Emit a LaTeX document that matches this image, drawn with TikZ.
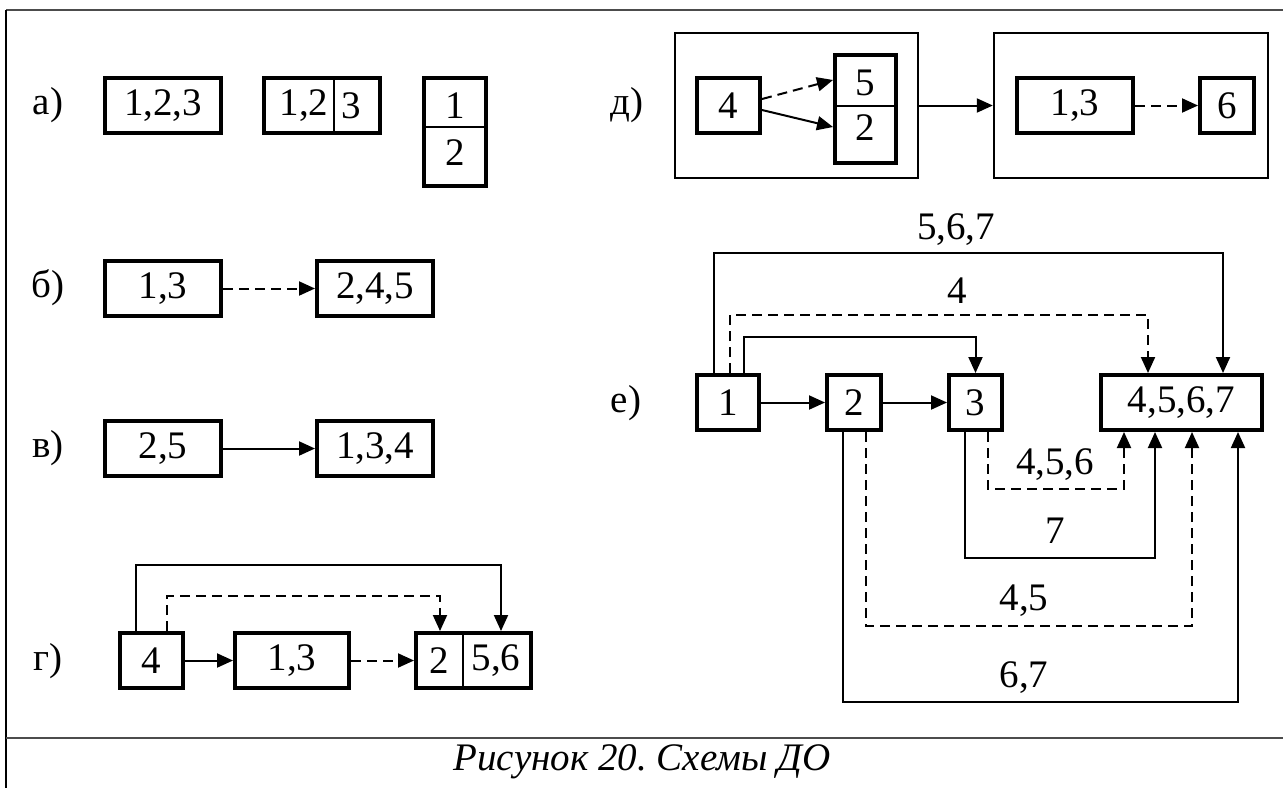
\documentclass[tikz,border=0pt]{standalone}
\usepackage{fontspec}
\setmainfont{Liberation Serif}
\usetikzlibrary{arrows.meta}
\frenchspacing

\begin{document}
\begin{tikzpicture}[x=0.5pt,y=-0.5pt,
	every node/.style={font=\fontsize{19.5}{23}\selectfont},
	blk/.style={draw,line width=2pt,inner sep=0pt,minimum height=27.5pt},
	grp/.style={draw,line width=1.2pt,inner sep=0pt,minimum height=72.5pt},
	arr/.style={line width=1pt,-{Triangle[length=8pt,width=7pt]}},
	dsh/.style={dash pattern=on 5pt off 3pt},
	ln/.style={line width=1pt}]
	\useasboundingbox (0,0) rectangle (1283,788);
	% frame
	\draw[line width=1pt,black!70] (1283,10) -- (6,10);
	\draw[line width=1.2pt] (6,10) -- (6,788);
	\draw[line width=1pt,black!70] (6,738) -- (1283,738);
	\foreach \txt/\yy/\nm in {а)/105/la,б)/288/lb,в)/448/lv,г)/661/lg} {
		\node (\nm) at (48,\yy) {\txt};}

	% a)
	\node[blk,minimum width=58pt] (A1) at (163,105.5) {1,2,3};
	\node[blk,minimum width=58pt] (A2) at (322,105.5) {};
	\draw[ln] (A2.north -| 334,0) -- (A2.south -| 334,0);
	\node (A2a) at (304,105.5) {1,2};
	\node (A2b) at (351,105.5) {3};
	\node[blk,minimum width=31pt,minimum height=54pt] (A3) at (455,132) {};
	\draw[ln] (A3.west |- 0,127) -- (A3.east |- 0,127);
	\node (A3a) at (455,106) {1};
	\node (A3b) at (455,153) {2};

	% b), v)
	\node[blk,minimum width=58pt] (B1) at (163,288.5) {1,3};
	\node[blk,minimum width=58pt] (B2) at (375,288.5) {2,4,5};
	\draw[arr,dsh] (B1) -- (B2);
	\node[blk,minimum width=58pt] (V1) at (163,448.5) {2,5};
	\node[blk,minimum width=58pt] (V2) at (375,448.5) {1,3,4};
	\draw[arr] (V1) -- (V2);

	% g)
	\node[blk,minimum width=31.5pt] (G1) at (151.5,660.5) {4};
	\node[blk,minimum width=57pt] (G2) at (292,660.5) {1,3};
	\node[blk,minimum width=57.5pt] (G3) at (473.5,660.5) {};
	\draw[ln] (G3.north -| 463,0) -- (G3.south -| 463,0);
	\node (G3a) at (439,660.5) {2};
	\node (G3b) at (496,660.5) {5,6};
	\draw[arr] (G1) -- (G2);
	\draw[arr,dsh] (G2) -- (G3);
	\draw[arr] (G1.north -| 136,0) |- (501,565) -- (G3.north -| 501,0);
	\draw[arr,dsh] (G1.north -| 167,0) |- (440,596) -- (G3.north -| 440,0);

	% d)
	\node (ld) at (627,105) {д)};
	\node[grp,minimum width=121.5pt] (DL) at (796.5,105.5) {};
	\node[blk,minimum width=31.5pt] (D4) at (728.5,105.5) {4};
	\node[blk,minimum width=30.5pt,minimum height=54pt] (D52) at (865.5,109) {};
	\draw[ln] (D52.west |- 0,106) -- (D52.east |- 0,106);
	\node (D52a) at (865.5,83) {5};
	\node (D52b) at (865.5,128) {2};
	\draw[arr,dsh] (D4.east |- 0,99) -- (D52.west |- 0,80);
	\draw[arr] (D4.east |- 0,110) -- (D52.west |- 0,127);
	\node[grp,minimum width=137pt] (DR) at (1131,105.5) {};
	\draw[arr] (DL) -- (DR);
	\node[blk,minimum width=58pt] (D13) at (1075,105.5) {1,3};
	\node[blk,minimum width=27pt] (D6) at (1227,105.5) {6};
	\draw[arr,dsh] (D13) -- (D6);

	% e)
	\node (le) at (626,403) {е)};
	\node[blk,minimum width=31pt] (E1) at (728,402.5) {1};
	\node[blk,minimum width=27pt] (E2) at (854,402.5) {2};
	\node[blk,minimum width=26.5pt] (E3) at (975.5,402.5) {3};
	\node[blk,minimum width=80.5pt] (E4) at (1181.5,402.5) {4,5,6,7};
	\draw[arr] (E1) -- (E2);
	\draw[arr] (E2) -- (E3);
	\draw[arr] (E1.north -| 714,0) |- (1223,253) -- (E4.north -| 1223,0);
	\draw[arr,dsh] (E1.north -| 730,0) |- (1148,315) -- (E4.north -| 1148,0);
	\draw[arr] (E1.north -| 744,0) |- (975.5,337) -- (E3.north);
	\draw[arr,dsh] (E3.south -| 988,0) |- (1124,489) -- (E4.south -| 1124,0);
	\draw[arr] (E3.south -| 965,0) |- (1155,558) -- (E4.south -| 1155,0);
	\draw[arr,dsh] (E2.south -| 866,0) |- (1192,626) -- (E4.south -| 1192,0);
	\draw[arr] (E2.south -| 843,0) |- (1238,702) -- (E4.south -| 1238,0);
	\node (t567) at (956,230) {5,6,7};
	\node (t4) at (957,291) {4};
	\node (t456) at (1055,465) {4,5,6};
	\node (t7) at (1055,531) {7};
	\node (t45) at (1024,601) {4,5};
	\node (t67) at (1024,678) {6,7};

	\node (cap) at (642,762) {\itshape Рисунок 20. Схемы ДО};
\end{tikzpicture}
\end{document}
